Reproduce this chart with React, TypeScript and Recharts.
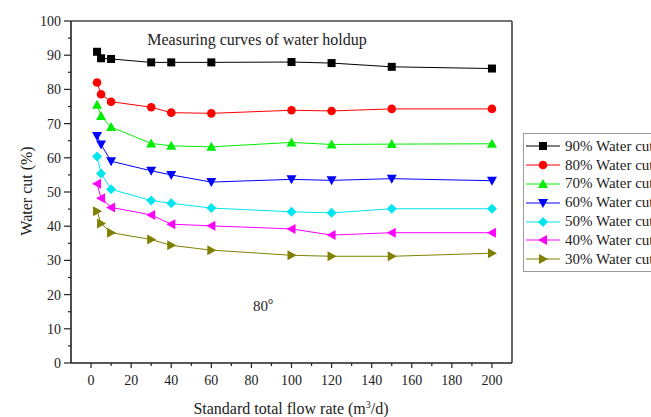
import React from "react";
import { LineChart, Line, XAxis, YAxis, ReferenceLine, Legend } from "recharts";

// ── Data ──────────────────────────────────────────────────────────────────────

const flowRates = [3, 5, 10, 30, 40, 60, 100, 120, 150, 200];

const cut90 = [91.0, 89.1, 88.9, 87.9, 87.9, 87.9, 88.0, 87.7, 86.6, 86.1];
const cut80 = [82.0, 78.6, 76.4, 74.8, 73.2, 73.0, 73.9, 73.7, 74.3, 74.3];
const cut70 = [75.5, 72.2, 69.0, 64.2, 63.5, 63.2, 64.5, 63.9, 64.0, 64.1];
const cut60 = [66.4, 63.9, 59.0, 56.2, 55.0, 52.9, 53.7, 53.4, 53.9, 53.3];
const cut50 = [60.4, 55.4, 50.8, 47.5, 46.7, 45.3, 44.2, 43.9, 45.1, 45.1];
const cut40 = [52.4, 48.2, 45.5, 43.3, 40.6, 40.1, 39.2, 37.4, 38.1, 38.1];
const cut30 = [44.4, 40.8, 38.1, 36.1, 34.4, 33.0, 31.5, 31.2, 31.2, 32.1];

const xTicks = [0, 10, 20, 30, 40, 50, 60, 70, 80, 90, 100, 110, 120, 130, 140, 150, 160, 170, 180, 190, 200];
const yTicks = [0, 5, 10, 15, 20, 25, 30, 35, 40, 45, 50, 55, 60, 65, 70, 75, 80, 85, 90, 95, 100];

type Shape = "square" | "circle" | "up" | "down" | "diamond" | "left" | "right";

const series: { key: string; name: string; color: string; shape: Shape; values: number[] }[] = [
  { key: "c90", name: "90% Water cut", color: "#000000", shape: "square", values: cut90 },
  { key: "c80", name: "80% Water cut", color: "#ff0000", shape: "circle", values: cut80 },
  { key: "c70", name: "70% Water cut", color: "#00ee00", shape: "up", values: cut70 },
  { key: "c60", name: "60% Water cut", color: "#0000ff", shape: "down", values: cut60 },
  { key: "c50", name: "50% Water cut", color: "#00e5ee", shape: "diamond", values: cut50 },
  { key: "c40", name: "40% Water cut", color: "#ff00ff", shape: "left", values: cut40 },
  { key: "c30", name: "30% Water cut", color: "#808000", shape: "right", values: cut30 },
];

const tableData = flowRates.map((x, i) => {
  const row: Record<string, number> = { x };
  series.forEach((s) => (row[s.key] = s.values[i]));
  return row;
});

const FONT = '"Liberation Serif", "Times New Roman", serif';
const INK = "#222";
const serif = { fontFamily: FONT };

// ── Markers ───────────────────────────────────────────────────────────────────

function Marker({ shape, cx, cy, color }: { shape: Shape; cx: number; cy: number; color: string }) {
  switch (shape) {
    case "square":
      return <rect x={cx - 4} y={cy - 4} width={8} height={8} fill={color} />;
    case "circle":
      return <circle cx={cx} cy={cy} r={4.3} fill={color} />;
    case "up":
      return <polygon points={`${cx},${cy - 5} ${cx + 5},${cy + 4} ${cx - 5},${cy + 4}`} fill={color} />;
    case "down":
      return <polygon points={`${cx - 5},${cy - 4} ${cx + 5},${cy - 4} ${cx},${cy + 5}`} fill={color} />;
    case "diamond":
      return <polygon points={`${cx},${cy - 5} ${cx + 5},${cy} ${cx},${cy + 5} ${cx - 5},${cy}`} fill={color} />;
    case "left":
      return <polygon points={`${cx - 5},${cy} ${cx + 4},${cy - 5} ${cx + 4},${cy + 5}`} fill={color} />;
    default:
      return <polygon points={`${cx + 5},${cy} ${cx - 4},${cy - 5} ${cx - 4},${cy + 5}`} fill={color} />;
  }
}

// ── Axis ticks (major labelled, minor unlabelled) ─────────────────────────────

function XTick({ x, y, payload }: any) {
  const major = payload.value % 20 === 0;
  return (
    <g>
      <line x1={x} x2={x} y1={y} y2={y + (major ? 5 : 3)} stroke={INK} strokeWidth={1.2} />
      {major && (
        <text x={x} y={y + 22} textAnchor="middle" fontSize={14} style={serif} fill={INK}>
          {payload.value}
        </text>
      )}
    </g>
  );
}

function YTick({ x, y, payload }: any) {
  const major = payload.value % 10 === 0;
  return (
    <g>
      <line x1={x - (major ? 7 : 3)} x2={x} y1={y} y2={y} stroke={INK} strokeWidth={1.2} />
      {major && (
        <text x={x - 10} y={y + 5} textAnchor="end" fontSize={14} style={serif} fill={INK}>
          {payload.value}
        </text>
      )}
    </g>
  );
}

// ── Legend ────────────────────────────────────────────────────────────────────

function LegendBox() {
  return (
    <div
      style={{
        border: "1px solid #999",
        background: "#fff",
        padding: "3px 0 2px 1px",
        fontFamily: FONT,
        fontSize: 15,
        color: INK,
        whiteSpace: "nowrap",
      }}
    >
      {series.map((s) => (
        <div key={s.key} style={{ display: "flex", alignItems: "center", height: 18.8 }}>
          <svg width={38} height={14} style={{ flex: "none" }}>
            <line x1={1} x2={35} y1={7} y2={7} stroke={s.color} strokeWidth={1} />
            <Marker shape={s.shape} cx={18} cy={7} color={s.color} />
          </svg>
          <span style={{ marginLeft: 2 }}>{s.name}</span>
        </div>
      ))}
    </div>
  );
}

export default function App() {
  return (
    <div style={{ position: "absolute", left: 0, top: 0, width: 651, height: 417, overflow: "hidden", background: "#fff" }}>
      <LineChart width={651} height={417} data={tableData} margin={{ top: 21, right: 139, bottom: 0, left: 0 }}>
        <XAxis
          type="number"
          dataKey="x"
          domain={[-10, 210]}
          ticks={xTicks}
          interval={0}
          height={54}
          tickSize={0}
          tickMargin={0}
          tickLine={false}
          tick={<XTick />}
          axisLine={{ stroke: INK, strokeWidth: 1.6 }}
        />
        <YAxis
          type="number"
          domain={[0, 100]}
          ticks={yTicks}
          interval={0}
          width={71}
          tickSize={0}
          tickMargin={0}
          tickLine={false}
          tick={<YTick />}
          axisLine={{ stroke: INK, strokeWidth: 1.6 }}
        />
        <ReferenceLine y={100} stroke="#444" strokeWidth={1.6} />
        <ReferenceLine x={210} stroke="#444" strokeWidth={1.6} />
        {series.map((s) => (
          <Line
            key={s.key}
            dataKey={s.key}
            name={s.name}
            stroke={s.color}
            strokeWidth={1}
            isAnimationActive={false}
            dot={(p: any) => (
              <g key={`${s.key}-${p.index}`}>
                <Marker shape={s.shape} cx={p.cx} cy={p.cy} color={s.color} />
              </g>
            )}
            activeDot={false}
          />
        ))}
        <Legend
          layout="horizontal"
          verticalAlign="middle"
          align="center"
          content={() => <LegendBox />}
          wrapperStyle={{ left: 523, top: 133, width: 170, height: 134 }}
        />
      </LineChart>
      <svg
        width={651}
        height={417}
        style={{ position: "absolute", left: 0, top: 0, pointerEvents: "none", fontFamily: FONT }}
        fill={INK}
      >
        <text x={257} y={45} textAnchor="middle" fontSize={16}>
          Measuring curves of water holdup
        </text>
        <text x={253} y={311} fontSize={15}>
          80<tspan fontSize={10} dy={-7}>o</tspan>
        </text>
        <text x={291} y={414} textAnchor="middle" fontSize={16}>
          Standard total flow rate (m<tspan fontSize={10} dy={-6}>3</tspan>
          <tspan dy={6}>/d)</tspan>
        </text>
        <text transform="translate(32,191) rotate(-90)" textAnchor="middle" fontSize={16}>
          Water cut (%)
        </text>
      </svg>
    </div>
  );
}
